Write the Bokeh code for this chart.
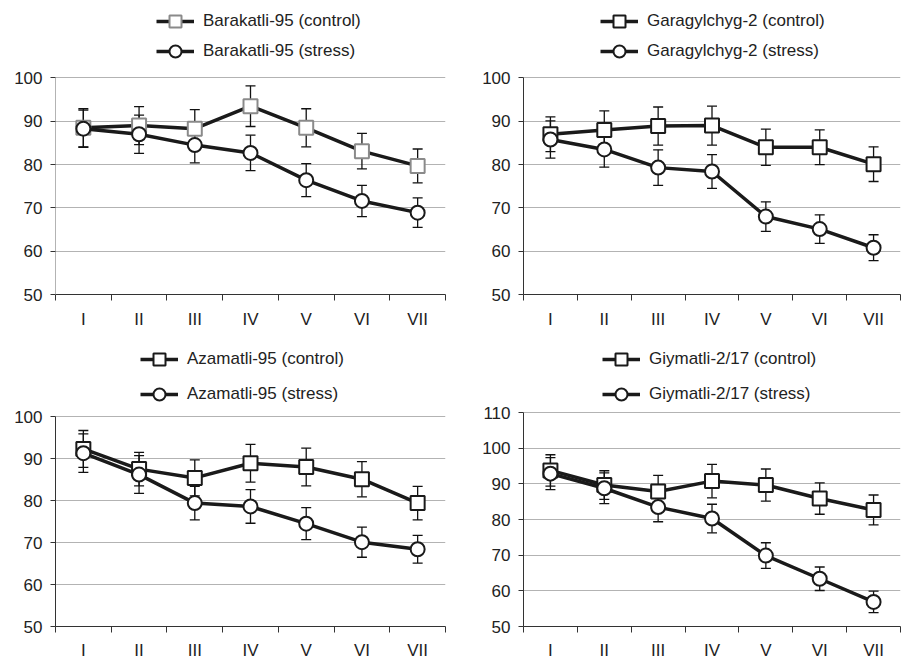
from bokeh.plotting import figure
from bokeh.models import (ColumnDataSource, Range1d, FixedTicker, Whisker, TeeHead,
                          Legend, LegendItem)
from bokeh.layouts import gridplot
from bokeh.embed import file_html
from bokeh.resources import INLINE

stages = ["I", "II", "III", "IV", "V", "VI", "VII"]

barakatli_ctrl = [88.5, 89.0, 88.3, 93.5, 88.5, 83.1, 79.7]
barakatli_ctrl_err = [4.4, 4.4, 4.4, 4.7, 4.4, 4.1, 3.9]
barakatli_stress = [88.3, 87.0, 84.5, 82.7, 76.4, 71.6, 68.9]
barakatli_stress_err = [4.3, 4.4, 4.1, 4.1, 3.8, 3.6, 3.4]

garagylchyg_ctrl = [87.0, 88.0, 88.9, 89.0, 84.0, 84.0, 80.1]
garagylchyg_ctrl_err = [4.0, 4.4, 4.4, 4.5, 4.2, 4.0, 4.0]
garagylchyg_stress = [85.8, 83.5, 79.3, 78.4, 68.0, 65.1, 60.8]
garagylchyg_stress_err = [4.3, 4.1, 4.1, 3.9, 3.4, 3.3, 3.0]

azamatli_ctrl = [92.3, 87.5, 85.4, 88.9, 88.0, 85.1, 79.4]
azamatli_ctrl_err = [4.4, 4.0, 4.3, 4.5, 4.5, 4.2, 4.0]
azamatli_stress = [91.3, 86.2, 79.4, 78.6, 74.5, 70.1, 68.4]
azamatli_stress_err = [4.6, 4.5, 4.0, 4.0, 3.8, 3.6, 3.3]

giymatli_ctrl = [93.8, 89.7, 87.9, 90.8, 89.7, 85.9, 82.7]
giymatli_ctrl_err = [4.4, 4.0, 4.5, 4.7, 4.5, 4.4, 4.2]
giymatli_stress = [92.9, 88.8, 83.5, 80.3, 69.9, 63.4, 56.9]
giymatli_stress_err = [4.5, 4.3, 4.1, 4.0, 3.6, 3.3, 3.0]

FONT = "Liberation Sans"
FS = "17px"
TXT = "#222222"

# stage i sits in the middle of its slot [i, i+1]
centres = [i + 0.5 for i in range(len(stages))]
boundaries = list(range(len(stages) + 1))

W, H = 451, 331
B_TOP = 2


def panel(name, ctrl, ctrl_err, stress, stress_err, ymax, ctrl_edge, y_axis_color,
          b_left, b_right, b_bottom, head_px, leg_x, leg_gap, leg_spacing, x_standoff):
    # the frame holds a legend strip of head_px pixels above the top of the value axis
    frame_h = H - B_TOP - b_bottom
    span = ymax - 50
    top = ymax + head_px * span / (frame_h - head_px)
    p = figure(x_range=Range1d(0, len(stages)), y_range=Range1d(50, top),
               width=W, height=H,
               min_border_left=b_left, min_border_right=b_right,
               min_border_top=B_TOP, min_border_bottom=b_bottom,
               output_backend="svg", toolbar_location=None)
    p.outline_line_color = None
    p.background_fill_color = "white"
    p.border_fill_color = "white"

    ticks = list(range(50, ymax + 1, 10))
    yax = p.yaxis[0]
    yax.ticker = FixedTicker(ticks=ticks)
    yax.bounds = (50, ymax)
    yax.major_tick_in = 0
    yax.major_tick_out = 5
    yax.minor_tick_line_color = None
    yax.axis_line_color = y_axis_color
    yax.major_tick_line_color = "#333333"
    yax.major_label_standoff = 8
    yax.major_label_text_font = FONT
    yax.major_label_text_font_size = FS
    yax.major_label_text_color = TXT

    xax = p.xaxis[0]
    xax.ticker = FixedTicker(ticks=centres, minor_ticks=boundaries)
    xax.major_label_overrides = {c: s for c, s in zip(centres, stages)}
    xax.major_tick_line_color = None
    xax.major_tick_in = 0
    xax.major_tick_out = 0
    xax.minor_tick_in = 0
    xax.minor_tick_out = 6
    xax.minor_tick_line_color = "#333333"
    xax.axis_line_color = "#333333"
    xax.major_label_standoff = x_standoff
    xax.major_label_text_font = FONT
    xax.major_label_text_font_size = FS
    xax.major_label_text_color = TXT

    p.ygrid.ticker = FixedTicker(ticks=ticks)
    p.ygrid.grid_line_color = "#b3b3b3"
    p.ygrid.grid_line_width = 1
    p.xgrid.visible = False

    src = ColumnDataSource(dict(
        x=centres, c=ctrl, s=stress,
        c_lo=[v - e for v, e in zip(ctrl, ctrl_err)], c_hi=[v + e for v, e in zip(ctrl, ctrl_err)],
        s_lo=[v - e for v, e in zip(stress, stress_err)], s_hi=[v + e for v, e in zip(stress, stress_err)],
    ))

    for lo, hi in (("c_lo", "c_hi"), ("s_lo", "s_hi")):
        wk = Whisker(source=src, base="x", lower=lo, upper=hi, dimension="height",
                     line_color="#111111", line_width=1.3,
                     lower_head=TeeHead(size=10, line_color="#111111", line_width=1.3),
                     upper_head=TeeHead(size=10, line_color="#111111", line_width=1.3))
        p.add_layout(wk)

    lc = p.line("x", "c", source=src, line_color="#1a1a1a", line_width=3.5)
    sc = p.scatter("x", "c", source=src, marker="square", size=14,
                   fill_color="white", line_color=ctrl_edge, line_width=2)
    ls = p.line("x", "s", source=src, line_color="#1a1a1a", line_width=3.5)
    ss = p.scatter("x", "s", source=src, marker="circle", size=14,
                   fill_color="white", line_color="#1a1a1a", line_width=2)

    legend = Legend(items=[LegendItem(label=f"{name} (control)", renderers=[lc, sc]),
                           LegendItem(label=f"{name} (stress)", renderers=[ls, ss])],
                    location=(leg_x, frame_h - head_px + leg_gap), orientation="vertical",
                    padding=0, margin=0, spacing=leg_spacing,
                    glyph_width=38, glyph_height=30, label_height=30,
                    label_standoff=9, label_text_font=FONT, label_text_font_size=FS,
                    label_text_color=TXT,
                    border_line_color=None, background_fill_alpha=0)
    p.add_layout(legend)
    return p


p1 = panel("Barakatli-95", barakatli_ctrl, barakatli_ctrl_err, barakatli_stress, barakatli_stress_err,
           100, "#8a8a8a", "#b3b3b3", 55, 6, 35, 76, 101, 10, 0, 9)
p2 = panel("Garagylchyg-2", garagylchyg_ctrl, garagylchyg_ctrl_err, garagylchyg_stress, garagylchyg_stress_err,
           100, "#1a1a1a", "#333333", 69, 2, 35, 76, 77, 10, 0, 9)
p3 = panel("Azamatli-95", azamatli_ctrl, azamatli_ctrl_err, azamatli_stress, azamatli_stress_err,
           100, "#1a1a1a", "#333333", 55, 6, 33, 84, 85, 5, 5, 8)
p4 = panel("Giymatli-2/17", giymatli_ctrl, giymatli_ctrl_err, giymatli_stress, giymatli_stress_err,
           110, "#1a1a1a", "#333333", 72, 2, 33, 80, 79, 1, 5, 8)

grid = gridplot([[p1, p2], [p3, p4]], toolbar_location=None)
open("out.html", "w").write(file_html(grid, INLINE))
